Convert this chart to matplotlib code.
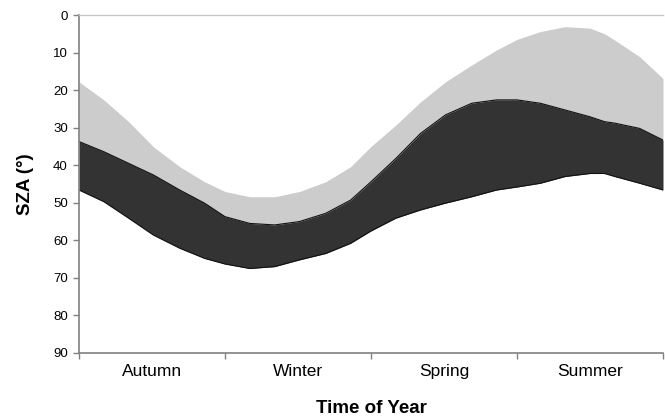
import matplotlib
matplotlib.use('Agg')
import matplotlib.pyplot as plt

plt.rcParams['font.family'] = ['Liberation Sans', 'DejaVu Sans']

# time of year in seasons (0 = start of autumn, 4 = end of summer)
season_pos = [0.00, 0.17, 0.34, 0.51, 0.69, 0.86, 1.00, 1.17, 1.34, 1.51,
              1.69, 1.86, 2.00, 2.17, 2.34, 2.51, 2.69, 2.86, 3.00, 3.16,
              3.33, 3.50, 3.60, 3.67, 3.84, 4.00]

# solar zenith angle envelopes (degrees)
sza_min = [17.8, 22.6, 28.4, 35.1, 40.4, 44.4, 47.0, 48.4, 48.4, 47.0,
           44.4, 40.4, 35.0, 29.3, 23.1, 17.8, 13.3, 9.3, 6.5, 4.4,
           3.1, 3.5, 5.0, 6.7, 11.1, 16.9]
sza_mid = [33.7, 36.4, 39.5, 42.6, 46.6, 50.1, 53.7, 55.5, 55.9, 55.0,
           52.8, 49.3, 44.4, 38.2, 31.5, 26.6, 23.5, 22.6, 22.6, 23.5,
           25.3, 27.1, 28.4, 28.8, 30.2, 33.3]
sza_max = [46.6, 49.7, 54.1, 58.6, 62.1, 64.8, 66.3, 67.5, 67.0, 65.2,
           63.5, 60.8, 57.5, 54.1, 51.9, 50.1, 48.4, 46.6, 45.8, 44.8,
           43.0, 42.2, 42.2, 43.0, 44.8, 46.6]

seasons = ['Autumn', 'Winter', 'Spring', 'Summer']
y_ticks = list(range(0, 91, 10))

fig = plt.figure(figsize=(6.65, 4.17), dpi=100)
ax = fig.add_axes([0.1188, 0.1535, 0.8782, 0.8105])

ax.fill_between(season_pos, sza_min, sza_mid, color='#cccccc', lw=0)
ax.fill_between(season_pos, sza_mid, sza_max, color='#333333', lw=0)
ax.plot(season_pos, sza_mid, color='#111111', lw=0.8)
ax.plot(season_pos, sza_max, color='#111111', lw=0.8)

ax.set_xlim(0, 4)
ax.set_ylim(90, 0)

ax.set_yticks(y_ticks)
ax.tick_params(axis='y', direction='out', length=4, width=1, color='#808080',
               labelsize=9.5, pad=4)

# category ticks sit between the season labels
ax.set_xticks([0, 1, 2, 3, 4])
ax.set_xticklabels([])
ax.set_xticks([0.5, 1.5, 2.5, 3.5], minor=True)
ax.set_xticklabels(seasons, minor=True)
ax.tick_params(axis='x', which='major', direction='out', length=4, width=1,
               color='#808080')
ax.tick_params(axis='x', which='minor', length=0, labelsize=12.5, pad=8)

for side in ['left', 'bottom']:
    ax.spines[side].set_color('#808080')
    ax.spines[side].set_linewidth(1.2)
ax.spines['top'].set_color('#c8c8c8')
ax.spines['top'].set_linewidth(1)
ax.spines['right'].set_visible(False)

ax.set_xlabel('Time of Year', fontsize=13.5, fontweight='bold', labelpad=15)
ax.set_ylabel('SZA (°)', fontsize=13.5, fontweight='bold', labelpad=14)

plt.savefig('out.png', dpi=100)
